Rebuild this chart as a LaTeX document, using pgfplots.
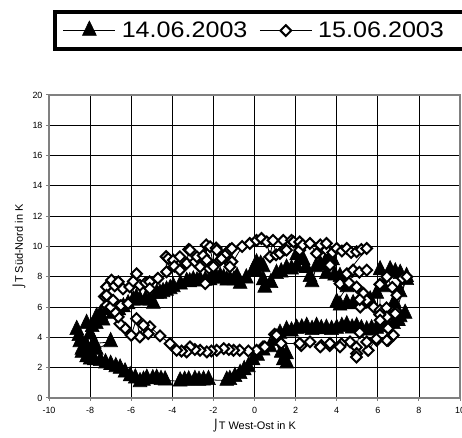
\documentclass[border=0pt]{standalone}
\usepackage{fontspec}
\setmainfont{Liberation Sans}
\newfontfamily\dejavu{DejaVu Sans}
\newfontfamily\legfont{Liberation Sans}[FakeStretch=1.12]
\usepackage{pgfplots}
\usepackage{pgfplotstable}
\pgfplotsset{compat=1.18}

\pgfplotstableread{
x y
-8.65 4.50
-8.55 4.10
-8.50 3.70
-8.40 3.20
-8.40 3.00
-8.17 2.70
-8.00 2.55
-7.80 2.50
-7.50 2.45
-7.25 2.30
-7.00 2.20
-6.75 2.05
-6.54 1.95
-6.30 1.70
-6.05 1.45
-5.80 1.30
-5.57 1.06
-5.40 1.15
-5.24 1.28
-4.95 1.25
-4.76 1.28
-4.55 1.20
-4.35 1.17
-3.62 1.10
-3.40 1.15
-3.20 1.17
-2.90 1.20
-2.70 1.15
-2.48 1.17
-2.24 1.20
-1.35 1.15
-1.20 1.20
-0.95 1.40
-0.70 1.60
-0.50 1.85
-0.30 2.05
-0.07 2.50
0.15 2.80
0.42 3.15
0.75 3.37
1.00 3.80
1.40 2.50
1.56 2.90
1.57 2.30
1.30 3.00
1.07 3.80
1.24 4.25
1.56 4.47
1.80 4.40
2.05 4.58
2.30 4.60
2.54 4.70
2.80 4.50
3.02 4.70
3.25 4.55
3.50 4.58
3.75 4.50
4.00 4.58
4.25 4.70
4.49 4.80
4.75 4.60
4.97 4.70
5.20 4.55
5.46 4.47
5.70 4.55
5.95 4.58
6.20 4.70
6.44 4.80
6.76 4.90
7.00 5.10
7.09 5.35
7.33 5.57
6.90 5.50
6.44 5.57
6.80 6.30
7.08 7.00
7.41 7.80
7.40 8.00
7.09 8.20
6.85 8.30
6.60 8.44
6.11 8.44
6.28 7.33
5.95 6.90
5.63 6.45
5.40 6.30
5.14 6.23
4.80 6.20
4.49 6.23
4.16 6.12
4.00 6.30
4.50 7.33
4.16 8.00
3.90 8.10
3.80 9.10
3.50 8.20
3.50 9.10
3.20 8.80
3.00 8.65
2.80 7.66
2.70 8.00
2.50 8.60
2.37 9.10
2.05 9.43
2.05 8.65
1.80 8.50
1.56 8.55
1.30 8.30
1.07 8.20
0.80 7.60
0.50 7.30
0.42 7.78
0.42 8.65
0.30 8.80
0.10 8.90
0.10 8.33
-0.06 8.43
-0.40 7.90
-0.70 7.55
-0.85 8.00
-1.00 7.78
-1.20 7.80
-1.35 7.77
-1.50 7.90
-1.67 8.00
-1.85 7.90
-2.00 8.00
-2.16 7.78
-2.40 7.75
-2.65 7.78
-2.80 7.70
-2.98 7.77
-3.15 7.65
-3.30 7.67
-3.60 7.50
-3.95 7.33
-4.10 7.20
-4.28 7.10
-4.45 7.00
-4.60 6.90
-4.76 6.90
-4.92 6.23
-5.09 6.45
-5.30 6.50
-5.57 6.45
-5.75 6.60
-5.90 6.45
-6.15 6.20
-6.38 6.00
-6.60 5.80
-6.90 5.57
-7.20 5.80
-7.37 5.13
-7.50 5.50
-7.68 5.35
-7.70 4.90
-7.90 4.70
-8.17 4.90
-8.00 4.20
-8.20 3.50
-7.80 3.60
-7.00 3.70
-7.70 3.20
-8.00 3.00
}\dataA

\pgfplotstableread{
x y
-7.20 6.12
-7.30 6.70
-7.20 7.33
-6.96 7.78
-6.80 7.40
-6.63 7.67
-6.40 7.20
-6.07 7.33
-5.90 7.70
-5.74 8.20
-5.58 7.44
-5.30 7.60
-5.10 7.67
-5.10 7.22
-4.70 7.90
-4.28 8.33
-4.30 9.33
-4.20 9.20
-3.95 9.10
-3.90 8.70
-3.63 9.32
-3.63 8.44
-3.30 8.88
-3.20 9.80
-3.14 9.76
-2.90 9.00
-2.80 9.32
-2.65 8.66
-2.50 9.40
-2.35 10.10
-2.32 9.10
-2.40 7.55
-2.20 8.55
-2.00 8.66
-2.16 9.98
-1.87 9.90
-1.84 9.76
-1.67 9.10
-1.60 9.20
-1.35 9.54
-1.20 8.88
-1.20 9.80
-1.10 9.87
-1.10 9.00
-1.20 8.66
-0.60 10.00
-0.23 10.20
0.10 10.40
0.34 10.53
0.60 10.30
0.75 9.32
0.90 10.40
1.05 9.45
1.24 9.54
1.40 10.40
1.46 9.80
1.56 9.76
1.80 10.40
1.90 10.30
2.20 9.76
2.20 10.30
2.35 10.10
2.70 10.20
3.02 9.54
3.20 10.10
3.50 9.76
3.50 10.20
3.67 8.77
3.80 9.60
4.00 9.87
4.25 9.70
4.49 9.87
4.70 9.60
4.97 9.65
5.20 9.80
5.46 9.87
4.49 8.20
4.80 8.44
5.10 8.30
5.46 8.44
4.16 7.55
4.60 7.60
4.97 7.33
5.30 6.90
5.46 6.45
5.14 6.00
5.12 6.50
5.80 6.00
6.11 5.80
6.10 7.50
6.44 8.00
6.70 7.30
6.93 6.78
7.20 7.90
7.41 8.00
6.90 5.70
6.85 5.57
6.42 5.95
6.44 5.35
6.10 5.50
6.11 5.13
6.50 4.60
6.76 4.14
6.50 3.80
6.44 3.80
5.95 3.80
5.93 3.90
5.53 3.14
5.46 3.70
5.14 4.36
5.12 4.32
4.96 3.35
4.97 2.93
4.96 2.70
4.65 3.70
4.23 3.57
4.16 3.37
3.66 3.46
3.67 3.60
3.25 3.46
3.20 3.37
2.70 3.70
2.28 3.46
2.20 3.60
1.30 3.60
0.98 4.20
1.07 4.14
0.40 3.35
0.50 3.37
0.10 3.15
-0.30 3.10
-0.72 3.15
-1.02 3.15
-1.25 3.20
-1.50 3.26
-1.84 3.15
-2.10 3.10
-2.32 3.04
-2.65 3.15
-2.90 3.20
-3.14 3.37
-3.30 3.04
-3.55 3.10
-3.79 3.15
-4.11 3.59
-4.60 4.10
-5.09 4.70
-5.17 4.25
-5.41 4.80
-5.58 4.03
-5.74 5.24
-6.00 4.14
-6.30 4.60
-6.55 4.90
-6.63 5.35
-6.80 5.68
-7.00 6.00
-6.88 6.45
-6.50 6.10
-6.15 6.23
-7.20 6.78
}\dataB

\begin{document}
\begin{tikzpicture}[x=1bp,y=1bp]
\useasboundingbox (0,0) rectangle (462,438);
\begin{axis}[
  at={(49bp,40bp)}, anchor=south west,
  width=411bp, height=303bp, scale only axis,
  xmin=-10, xmax=10, ymin=0, ymax=20,
  xtick={-10,-8,...,10}, ytick={0,2,...,20},
  grid=major,
  major grid style={black, line width=0.8bp},
  axis line style={draw=gray, line width=1.6bp},
  tick align=outside, major tick length=3bp,
  tick style={gray, line width=1bp},
  xtick pos=left, ytick pos=left,
  /pgf/number format/assume math mode=true,
  tick label style={font=\fontsize{9}{10}\selectfont},
  xticklabel style={yshift=-3bp},
  every axis x label/.style={at={(axis description cs:0.5,-0.1056)}, anchor=base},
  every axis y label/.style={at={(axis description cs:-0.0633,0.5)}, rotate=90, anchor=base},
  label style={font=\fontsize{11}{13}\selectfont},
  xlabel={{\dejavu ⌡}T West-Ost in K},
  ylabel={{\dejavu ⌡}T Süd-Nord in K},
  legend columns=2,
  legend style={at={(axis description cs:0.0097,1.2805)}, anchor=north west,
    draw=black, line width=4bp, inner xsep=8bp, inner ysep=8bp,
    font=\legfont\fontsize{22.5}{26}\selectfont,
    nodes={inner sep=2bp},
    /tikz/every odd column/.append style={column sep=4bp},
    /tikz/every even column/.append style={column sep=10bp}},
  legend image code/.code={\draw[mark repeat=2,mark phase=2,#1] plot coordinates {(0bp,0bp) (26bp,0bp) (52bp,0bp)};},
]
\addplot[black, line width=0.8bp, mark=triangle*, mark size=8bp,
  mark options={solid, fill=black, line width=0.6bp, yscale=1.2}] table[x=x,y=y] {\dataA};
\addlegendentry{14.06.2003}
\addplot[black, line width=0.8bp, mark=square*, mark size=3.8bp,
  mark options={solid, fill=white, draw=black, line width=2bp, rotate=45}] table[x=x,y=y] {\dataB};
\addlegendentry{15.06.2003\hspace*{80bp}}
\end{axis}
\end{tikzpicture}
\end{document}
